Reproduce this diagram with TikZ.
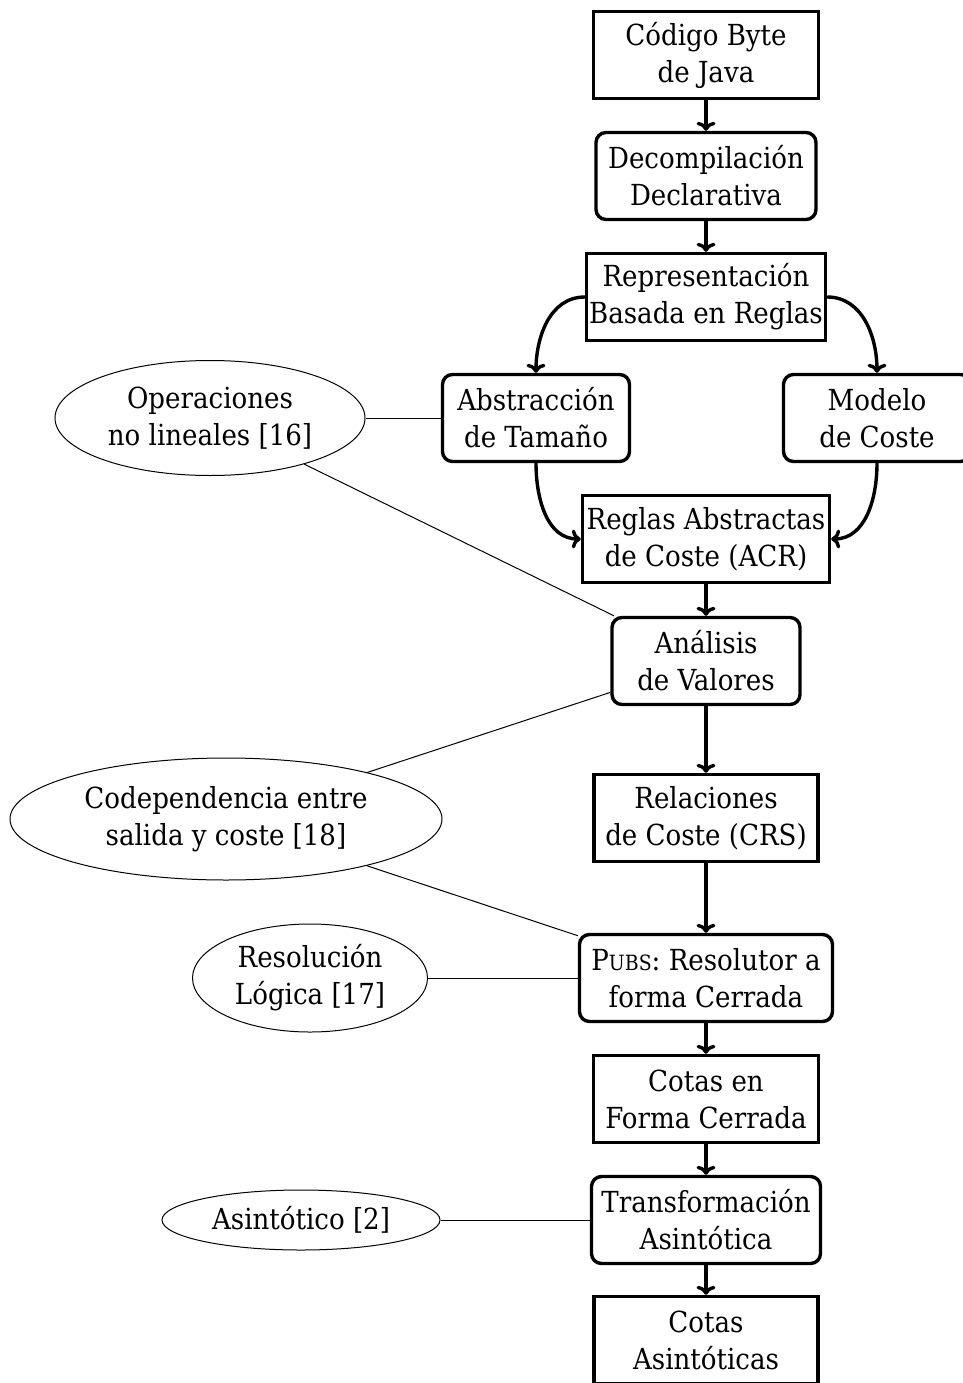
\documentclass[tikz,border=0pt]{standalone}
\usepackage{fontspec}
\setmainfont{DejaVu Serif Condensed}
\usetikzlibrary{shapes.geometric,arrows.meta}
\begin{document}
\begin{tikzpicture}[x=1pt,y=-1pt,
  font={\fontsize{29}{37}\selectfont},
  box/.style={draw,line width=3.4pt,align=center,inner sep=0pt,minimum height=87pt},
  sharpbox/.style={box},
  roundbox/.style={box,rounded corners=10pt},
  oval/.style={draw,ellipse,line width=1pt,inner sep=0pt},
  ovaltext/.style={align=center,inner sep=0pt},
  flow/.style={line width=3.4pt,-{Computer Modern Rightarrow[length=9pt,width=19pt]}},
  link/.style={line width=1pt}]
\useasboundingbox (0,0) rectangle (963,1383);

% main pipeline
\node[sharpbox,minimum width=225pt] (codigo)   at (706,55)   {Código Byte\\de Java};
\node[roundbox,minimum width=220pt] (decomp)   at (706,176)  {Decompilación\\Declarativa};
\node[sharpbox,minimum width=239pt] (repr)     at (706,297)  {Representación\\Basada en Reglas};
\node[roundbox,minimum width=187pt] (abstr)    at (536,418)  {Abstracción\\de Tamaño};
\node[roundbox,minimum width=187pt] (modelo)   at (877,418)  {Modelo\\de Coste};
\node[sharpbox,minimum width=247pt] (reglas)   at (706,539)  {Reglas Abstractas\\de Coste (ACR)};
\node[roundbox,minimum width=188pt] (analisis) at (706,661)  {Análisis\\de Valores};
\node[sharpbox,minimum width=224pt] (crs)      at (706,818)  {Relaciones\\de Coste (CRS)};
\node[roundbox,minimum width=253pt] (pubs)     at (706,978)  {P{\fontsize{21}{37}\selectfont UBS}: Resolutor a\\forma Cerrada};
\node[sharpbox,minimum width=225pt] (cerrada)  at (706,1099) {Cotas en\\Forma Cerrada};
\node[roundbox,minimum width=229pt] (transf)   at (706,1220) {Transformación\\Asintótica};
\node[sharpbox,minimum width=224pt] (asint)    at (706,1340) {Cotas\\Asintóticas};

% side annotations
\node[oval,minimum width=310pt,minimum height=115pt] (oplin) at (210,418) {};
\node[ovaltext] (oplin-t) at (oplin) {Operaciones\\no lineales [16]};
\node[oval,minimum width=432pt,minimum height=122pt] (codep) at (226,819) {};
\node[ovaltext] (codep-t) at (codep) {Codependencia entre\\salida y coste [18]};
\node[oval,minimum width=235pt,minimum height=108pt] (logica) at (310,978) {};
\node[ovaltext] (logica-t) at (logica) {Resolución\\Lógica [17]};
\node[oval,minimum width=278pt,minimum height=60pt] (asintot) at (301,1220) {};
\node[ovaltext] (asintot-t) at (asintot) {Asintótico [2]};

% flow arrows
\draw[flow] (codigo) -- (decomp);
\draw[flow] (decomp) -- (repr);
\draw[flow] (repr.west) to[out=180,in=90] (abstr.north);
\draw[flow] (repr.east) to[out=0,in=90] (modelo.north);
\draw[flow] (abstr.south) to[out=-90,in=180] (reglas.west);
\draw[flow] (modelo.south) to[out=-90,in=0] (reglas.east);
\draw[flow] (reglas) -- (analisis);
\draw[flow] (analisis) -- (crs);
\draw[flow] (crs) -- (pubs);
\draw[flow] (pubs) -- (cerrada);
\draw[flow] (cerrada) -- (transf);
\draw[flow] (transf) -- (asint);

% annotation links
\draw[link] (oplin) -- (abstr);
\draw[link] (oplin) -- (analisis);
\draw[link] (codep) -- (analisis);
\draw[link] (codep) -- (pubs);
\draw[link] (logica) -- (pubs);
\draw[link] (asintot) -- (transf);
\end{tikzpicture}
\end{document}
